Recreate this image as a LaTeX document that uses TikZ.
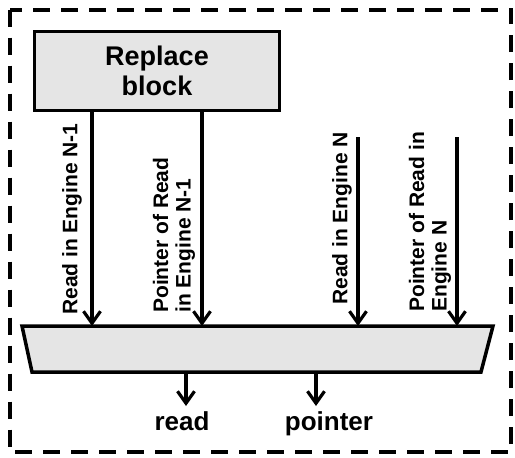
\documentclass[tikz,border=0pt]{standalone}
\usepackage{fontspec}
\setmainfont{Liberation Sans}
\usetikzlibrary{arrows.meta}
\usetikzlibrary{positioning}
\tikzset{block/.style={rectangle,draw=black,fill=black!10,line width=3.5pt,minimum width=245pt,minimum height=79pt,align=center,font=\fontsize{27}{30}\selectfont\bfseries}}
\tikzset{sig/.style={black,line width=3.2pt,-{Straight Barb[length=12pt,width=17pt]}}}
\tikzset{vlabel/.style={rotate=90,anchor=west,inner sep=0pt,align=left,font=\fontsize{21}{22.5}\selectfont\bfseries}}
\tikzset{outlabel/.style={anchor=base,inner sep=0pt,font=\fontsize{26}{28}\selectfont\bfseries}}
\tikzset{mux/.style={draw=black,fill=black!10,line width=3.5pt,line join=miter}}
\tikzset{frame/.style={black,line width=4pt,dash pattern=on 17pt off 11pt}}

\begin{document}
\begin{tikzpicture}[x=1pt,y=-1pt]
  \useasboundingbox (0,0) rectangle (515,458);
  % Frame
  \draw[frame] (9.5,9.5) rectangle (511,452);

  % Replace block
  \node[block] (rb) at (157,71) {Replace\\block};

  % Mux
  \draw[mux] (22,326) coordinate (mtl) -- (493,326) coordinate (mtr)
    -- (481,372) coordinate (mbr) -- (32,372) coordinate (mbl) -- cycle;
  \coordinate (in1) at (92,326);
  \coordinate (in2) at (202,326);
  \coordinate (in3) at (358,326);
  \coordinate (in4) at (457,326);
  \coordinate (src3) at (358,137);
  \coordinate (src4) at (457,137);
  \coordinate (out1) at (186,372);
  \coordinate (out2) at (316,372);
  \coordinate (end1) at (186,406);
  \coordinate (end2) at (316,406);

  % Inputs
  \draw[sig] (rb.south -| in1) -- (in1);
  \draw[sig] (rb.south -| in2) -- (in2);
  \draw[sig] (src3) -- (in3);
  \draw[sig] (src4) -- (in4);

  % Outputs
  \draw[sig] (out1) -- (end1);
  \draw[sig] (out2) -- (end2);

  % Labels
  \node[vlabel] (l1) at (72,315) {Read in Engine N-1};
  \node[vlabel] (l2) at (174,313) {Pointer of Read\\in Engine N-1};
  \node[vlabel] (l3) at (342,305) {Read in Engine N};
  \node[vlabel] (l4) at (430,312) {Pointer of Read in\\Engine N};
  \node[outlabel] (rd) at (182,430) {read};
  \node[outlabel] (pt) at (329,430) {pointer};
\end{tikzpicture}
\end{document}
